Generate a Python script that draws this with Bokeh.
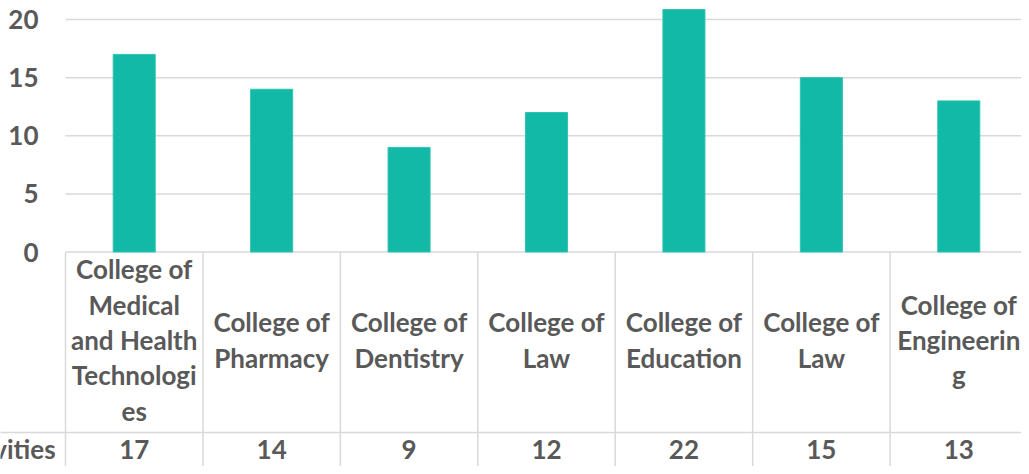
import numpy as np
from bokeh.plotting import figure
from bokeh.models import Range1d
from bokeh.embed import file_html
from bokeh.resources import INLINE
from bokeh.core.properties import value

# ---- data ----
categories = [
    "College of\nMedical\nand Health\nTechnologi\nes",
    "College of\nPharmacy",
    "College of\nDentistry",
    "College of\nLaw",
    "College of\nEducation",
    "College of\nLaw",
    "College of\nEngineerin\ng",
]
activities = [17, 14, 9, 12, 22, 15, 13]
y_ticks = [0, 5, 10, 15, 20]
row_label = "Number of Activities"
axis_max = 20.86  # value axis cap (bars are clipped here)

# ---- layout helpers (reference pixel geometry) ----
LEFT = 65.0        # left edge of plot/table area
COL_W = 137.43     # width of one category column
ZERO_Y = 251.5     # pixel row of value 0
PX = 11.625        # pixels per value unit
ROW_Y = 432.0      # separator between header row and values row
W, H = 1021, 466


def dx(px):
    return (px - LEFT) / COL_W - 0.5


def dy(py):
    return (ZERO_Y - py) / PX


n = len(categories)
xs = np.arange(n)

FONT = value("Lato")
TXT_COLOR = "#595959"
LINE_COLOR = "#d9d9d9"
FS = 26

p = figure(width=W, height=H, output_backend="svg", toolbar_location=None,
           x_range=Range1d(dx(0), dx(W)), y_range=Range1d(dy(H), dy(0)),
           x_axis_location=None, y_axis_location=None, min_border=0)
p.outline_line_color = None
p.xgrid.visible = False
p.ygrid.visible = False
p.background_fill_color = "white"

# gridlines
p.segment(x0=[-0.5] * len(y_ticks), x1=[n - 0.5] * len(y_ticks), y0=y_ticks, y1=y_ticks,
          line_color=LINE_COLOR, line_width=1.5)

# bars (clipped at axis max)
tops = np.minimum(np.array(activities, dtype=float), axis_max)
p.vbar(x=xs, top=tops, bottom=0, width=0.306, fill_color="#12B9A6", line_color="#2fc4b3", line_width=1)

# y tick labels
p.text(x=[dx(38)] * len(y_ticks), y=y_ticks, text=[str(t) for t in y_ticks],
       text_align="right", text_baseline="middle", text_font=FONT, text_font_style="bold",
       text_font_size=f"{FS}px", text_color=TXT_COLOR)

# table lines
bounds = np.arange(n + 1) - 0.5
p.segment(x0=bounds[:-1], x1=bounds[:-1], y0=[0] * n, y1=[dy(H + 10)] * n,
          line_color=LINE_COLOR, line_width=1.5)
p.segment(x0=[bounds[-1]], x1=[bounds[-1]], y0=[dy(H + 10)], y1=[dy(-10)],
          line_color=LINE_COLOR, line_width=1.5)
p.segment(x0=[dx(-10)], x1=[n - 0.5], y0=[dy(ROW_Y)], y1=[dy(ROW_Y)],
          line_color=LINE_COLOR, line_width=1.5)

# header row: category names
p.text(x=xs, y=[dy(339.5)] * n, text=categories,
       text_align="center", text_baseline="middle", text_font=FONT, text_font_style="bold",
       text_font_size=f"{FS}px", text_color=TXT_COLOR, text_line_height=34.5 / (1.2 * FS))

# value row
VAL_MID = 448.5
p.text(x=xs, y=[dy(VAL_MID)] * n, text=[str(v) for v in activities],
       text_align="center", text_baseline="middle", text_font=FONT, text_font_style="bold",
       text_font_size=f"{FS}px", text_color=TXT_COLOR)

# row label
p.text(x=[dx(57)], y=[dy(VAL_MID)], text=[row_label],
       text_align="right", text_baseline="middle", text_font=FONT, text_font_style="bold",
       text_font_size=f"{FS}px", text_color=TXT_COLOR)

open("out.html", "w").write(file_html(p, INLINE))
